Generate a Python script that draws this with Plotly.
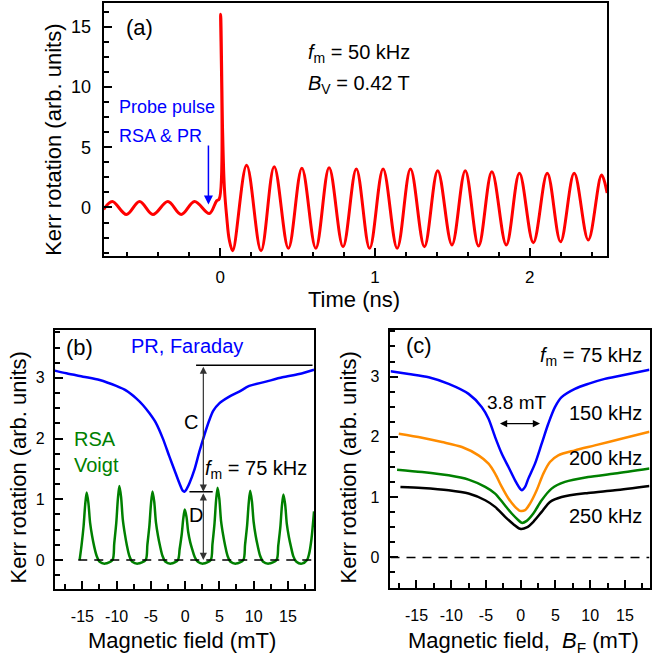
import plotly.graph_objects as go

W, H = 652, 662
FONT = "Liberation Sans, Arial, Helvetica, sans-serif"

# ---------------- Panel (a): time-resolved Kerr rotation ----------------
time_ns = [-0.753, -0.697, -0.606, -0.521, -0.435, -0.338, -0.252, -0.166, -0.070,
           -0.023, -0.006, 0.003, 0.016, 0.027, 0.042, 0.059, 0.081,
           0.171, 0.264, 0.349, 0.441, 0.528, 0.618, 0.704, 0.794, 0.880, 0.966,
           1.053, 1.144, 1.230, 1.320, 1.406, 1.498, 1.584, 1.670, 1.756, 1.849,
           1.934, 2.024, 2.114, 2.200, 2.288, 2.379, 2.465, 2.501]
kerr_time = [-0.15, 0.50, -0.58, 0.50, -0.58, 0.50, -0.58, 0.50, -0.50,
             0.55, 0.70, 16.05, 6.2, 1.7, -0.76, -2.7, -3.59,
             3.50, -3.59, 3.39, -3.39, 3.26, -3.39, 3.31, -3.26, 3.20, -3.39,
             3.20, -3.39, 3.20, -3.26, 3.06, -3.11, 3.06, -3.20, 2.97, -3.11,
             2.84, -2.92, 2.84, -2.84, 2.84, -2.70, 2.70, 1.20]

# ---------------- Panel (b): PR (Faraday) and RSA (Voigt) ----------------
field_pr = [-19.02, -17.33, -14.90, -12.47, -10.05, -8.59, -7.14, -6.17, -5.20, -4.23,
            -3.26, -2.29, -1.56, -0.83, -0.35, -0.10, 0.14, 0.63, 1.35, 2.08, 2.81,
            3.54, 4.12, 4.99, 6.45, 7.90, 9.36, 11.79, 14.21, 16.64, 18.82]
kerr_pr = [3.12, 3.075, 3.02, 2.965, 2.867, 2.79, 2.663, 2.554, 2.416, 2.252,
           2.004, 1.702, 1.483, 1.263, 1.142, 1.126, 1.153, 1.263, 1.483, 1.785, 2.059,
           2.306, 2.46, 2.581, 2.691, 2.773, 2.867, 2.938, 3.009, 3.064, 3.135]

field_rsa = [-15.40, -15.12, -14.82, -14.59, -14.37, -14.12, -13.87, -13.57, -13.27, -12.92, -12.47, -11.67,
             -10.6, -10.35, -10.05, -9.82, -9.6, -9.35, -9.1, -8.8, -8.5, -8.15, -7.7, -6.9,
             -5.76, -5.51, -5.21, -4.98, -4.76, -4.51, -4.26, -3.96, -3.66, -3.31, -2.86, -2.06,
             -1.05, -0.8, -0.5, -0.27, -0.05, 0.2, 0.45, 0.75, 1.05, 1.4, 1.85, 2.65,
             3.74, 3.99, 4.29, 4.52, 4.74, 4.99, 5.24, 5.54, 5.84, 6.19, 6.64, 7.44,
             8.5, 8.75, 9.05, 9.28, 9.5, 9.75, 10.0, 10.3, 10.6, 10.95, 11.4, 12.2,
             13.35, 13.6, 13.9, 14.13, 14.35, 14.6, 14.85, 15.15, 15.45, 15.8, 16.25, 17.05,
             17.8, 18.1, 18.45, 18.82]
kerr_rsa = [0.00, 0.24, 0.56, 0.91, 1.11, 0.94, 0.61, 0.39, 0.22, 0.07, -0.03, -0.06,
            0.00, 0.27, 0.61, 1.00, 1.22, 1.04, 0.67, 0.43, 0.24, 0.07, -0.03, -0.06,
            0.00, 0.25, 0.57, 0.93, 1.13, 0.96, 0.62, 0.40, 0.23, 0.07, -0.03, -0.06,
            0.00, 0.18, 0.42, 0.68, 0.83, 0.71, 0.46, 0.29, 0.17, 0.05, -0.03, -0.06,
            0.00, 0.26, 0.60, 0.98, 1.19, 1.01, 0.65, 0.42, 0.24, 0.07, -0.03, -0.06,
            0.00, 0.25, 0.57, 0.93, 1.14, 0.97, 0.63, 0.40, 0.23, 0.07, -0.03, -0.06,
            0.00, 0.24, 0.54, 0.89, 1.08, 0.92, 0.59, 0.38, 0.22, 0.06, -0.03, -0.06,
            0.00, 0.10, 0.35, 0.80]

# ---------------- Panel (c): PR for several modulation frequencies ----------------
field_75 = [-18.74, -16.11, -13.24, -10.37, -7.50, -5.59, -4.63, -3.68, -2.72, -1.76, -0.81,
            -0.09, 0.15, 0.63, 1.10, 2.06, 3.02, 3.97, 4.93, 5.89, 7.80, 9.71, 12.10, 14.49, 18.54]
kerr_75 = [3.09, 3.044, 2.989, 2.879, 2.713, 2.493, 2.30, 1.996, 1.72, 1.50, 1.279,
           1.141, 1.114, 1.169, 1.307, 1.555, 1.886, 2.217, 2.493, 2.658, 2.796, 2.879, 2.962, 3.017, 3.115]

field_150 = [-17.55, -14.20, -11.33, -8.46, -6.07, -4.63, -3.68, -2.72, -1.76, -0.81, -0.09,
             0.63, 1.34, 2.30, 3.26, 4.21, 5.41, 7.80, 10.67, 14.49, 18.54]
kerr_150 = [2.051, 1.985, 1.914, 1.831, 1.693, 1.555, 1.39, 1.169, 0.976, 0.838, 0.772,
            0.783, 0.893, 1.114, 1.39, 1.583, 1.693, 1.776, 1.858, 1.969, 2.085]

field_200 = [-17.79, -14.20, -10.37, -7.50, -5.11, -3.68, -2.48, -1.29, -0.33, 0.15, 0.87,
             1.82, 3.02, 4.45, 6.37, 9.71, 13.54, 18.54]
kerr_200 = [1.456, 1.417, 1.362, 1.29, 1.169, 1.059, 0.893, 0.728, 0.617, 0.573, 0.606,
            0.728, 0.948, 1.141, 1.252, 1.334, 1.39, 1.475]

field_250 = [-17.31, -14.20, -10.37, -7.50, -5.11, -3.68, -2.24, -1.05, -0.09, 0.87,
             1.82, 3.02, 4.21, 5.89, 9.71, 13.54, 18.54]
kerr_250 = [1.169, 1.152, 1.114, 1.059, 0.948, 0.838, 0.672, 0.551, 0.475, 0.496,
            0.59, 0.755, 0.921, 1.003, 1.07, 1.114, 1.185]

# tick labels
time_ticks = [0, 1, 2]
time_ticklabels = ["0", "1", "2"]
kerr_a_ticks = [0, 5, 10, 15]
kerr_a_ticklabels = ["0", "5", "10", "15"]
field_ticks = [-15, -10, -5, 0, 5, 10, 15]
field_ticklabels = ["-15", "-10", "-5", "0", "5", "10", "15"]
kerr_bc_ticks = [0, 1, 2, 3]
kerr_bc_ticklabels = ["0", "1", "2", "3"]

RED = "#ff0000"
BLUE = "#0000ff"
GREEN = "#008000"
ORANGE = "#ff8c00"
BLACK = "#000000"


def px(x, y):
    return x / W, 1 - y / H


fig = go.Figure()


def line(x, y, color, width, xa, ya, smoothing=1.0):
    fig.add_trace(go.Scatter(x=x, y=y, mode="lines", xaxis=xa, yaxis=ya,
                             line=dict(color=color, width=width, shape="spline", smoothing=smoothing),
                             showlegend=False, hoverinfo="skip"))


line(time_ns, kerr_time, RED, 3, "x", "y", 1.0)
line(field_pr, kerr_pr, BLUE, 2.5, "x2", "y2", 0.8)
line(field_rsa, kerr_rsa, GREEN, 2.5, "x2", "y2", 0.8)
line(field_75, kerr_75, BLUE, 2.5, "x3", "y3", 0.8)
line(field_150, kerr_150, ORANGE, 2.5, "x3", "y3", 0.8)
line(field_200, kerr_200, GREEN, 2.5, "x3", "y3", 0.8)
line(field_250, kerr_250, BLACK, 2.5, "x3", "y3", 0.8)


def axis(domain, rng, tickvals, ticktext, minor_dtick, fsize, standoff, anchor, ticklen=8, minorlen=5):
    return dict(domain=domain, range=rng, tickmode="array", tickvals=tickvals, ticktext=ticktext,
                ticks="inside", ticklen=ticklen, tickwidth=1.5, tickcolor="black",
                minor=dict(tickmode="linear", tick0=0, dtick=minor_dtick, ticks="inside",
                           ticklen=minorlen, tickwidth=1.5, tickcolor="black"),
                showline=True, linewidth=2, linecolor="black", mirror=True,
                showgrid=False, zeroline=False,
                tickfont=dict(size=fsize, family=FONT, color="black"),
                ticklabelstandoff=standoff, anchor=anchor, fixedrange=True)


fig.update_layout(
    width=W, height=H, margin=dict(l=0, r=0, t=0, b=0),
    paper_bgcolor="white", plot_bgcolor="white", showlegend=False,
    font=dict(family=FONT, color="black"),
    xaxis=axis([104 / W, 609 / W], [-0.753, 2.501], time_ticks, time_ticklabels, 0.2, 17, 5, "y", 8, 4),
    yaxis=axis([1 - 256 / H, 1 - 3 / H], [-4.03, 16.99], kerr_a_ticks, kerr_a_ticklabels, 1.25, 18, 7, "x"),
    xaxis2=axis([55 / W, 315 / W], [-19.02, 18.82], field_ticks, field_ticklabels, 2.5, 16, 11, "y2"),
    yaxis2=axis([1 - 589.3 / H, 1 - 330 / H], [-0.483, 3.789], kerr_bc_ticks, kerr_bc_ticklabels, 0.25, 16, 5, "x2"),
    xaxis3=axis([391.7 / W, 651.5 / W], [-18.74, 18.54], field_ticks, field_ticklabels, 2.5, 16, 11, "y3"),
    yaxis3=axis([1 - 588.3 / H, 1 - 330 / H], [-0.513, 3.773], kerr_bc_ticks, kerr_bc_ticklabels, 0.25, 16, 6, "x3"),
)

# shapes: dashed zero lines and the reference bars in (b)
shapes = [
    dict(type="line", xref="x2", yref="y2", x0=-15.6, x1=18.6, y0=0, y1=0,
         line=dict(color="black", width=1.5, dash="9px,7px")),
    dict(type="line", xref="x3", yref="y3", x0=-18.74, x1=18.54, y0=0, y1=0,
         line=dict(color="black", width=1.5, dash="9px,7px")),
    dict(type="line", xref="x2", yref="y2", x0=1.6, x1=18.6, y0=3.21, y1=3.21,
         line=dict(color="black", width=1.5)),
    dict(type="line", xref="x2", yref="y2", x0=0.63, x1=4.03, y0=1.125, y1=1.125,
         line=dict(color="black", width=1.5)),
]
fig.update_layout(shapes=shapes)

ann = []


def text(t, x, y, size, color="black", xanchor="left", yanchor="middle", angle=0):
    xp, yp = px(x, y)
    ann.append(dict(text=t, x=xp, y=yp, xref="paper", yref="paper", showarrow=False,
                    xanchor=xanchor, yanchor=yanchor, textangle=angle,
                    font=dict(size=size, color=color, family=FONT)))


# panel (a)
text("(a)", 124, 27, 22)
text("<i>f</i><sub>m</sub> = 50 kHz", 307, 53, 20)
text("<i>B</i><sub>V</sub> = 0.42 T", 307, 84, 20)
text("Probe pulse", 117, 107, 18, BLUE)
text("RSA &amp; PR", 117, 136, 18, BLUE)
# panel (b)
text("(b)", 64, 347, 22)
text("PR, Faraday", 129, 346, 20, BLUE)
text("RSA", 72, 439, 20, GREEN)
text("Voigt", 72, 465, 20, GREEN)
text("<i>f</i><sub>m</sub> = 75 kHz", 204, 469, 20)
text("C", 191.7, 422, 20, xanchor="center")
text("D", 196.7, 515, 20, xanchor="center")
# panel (c)
text("(c)", 405, 345, 22)
text("<i>f</i><sub>m</sub> = 75 kHz", 646, 356, 20, xanchor="right")
text("3.8 mT", 519, 402, 19, xanchor="center")
text("150 kHz", 646, 413, 20, xanchor="right")
text("200 kHz", 646, 458, 20, xanchor="right")
text("250 kHz", 646, 516, 20, xanchor="right")
# axis titles
text("Time (ns)", 355, 299, 22, xanchor="center")
text("Magnetic field (mT)", 182.5, 640, 22, xanchor="center")
text("Magnetic field,  <i>B</i><sub>F</sub> (mT)", 525, 642, 22, xanchor="center")
text("Kerr rotation (arb. units)", 53, 140, 22, xanchor="center", angle=-90)
text("Kerr rotation (arb. units)", 19, 467.5, 22, xanchor="center", angle=-90)
text("Kerr rotation (arb. units)", 350, 467.5, 22, xanchor="center", angle=-90)

# arrows
ann.append(dict(x=-0.076, y=0.25, ax=-0.076, ay=5.27, xref="x", yref="y", axref="x", ayref="y",
                text="", showarrow=True, arrowhead=2, arrowsize=1.2, arrowwidth=1.5, arrowcolor=BLUE))
ann.append(dict(x=2.66, y=1.125, ax=2.66, ay=3.21, xref="x2", yref="y2", axref="x2", ayref="y2",
                text="", showarrow=True, arrowhead=2, arrowside="end+start", arrowsize=1.2,
                arrowwidth=1.2, arrowcolor="#333333"))
ann.append(dict(x=2.66, y=0.0, ax=2.66, ay=1.125, xref="x2", yref="y2", axref="x2", ayref="y2",
                text="", showarrow=True, arrowhead=2, arrowside="end+start", arrowsize=1.2,
                arrowwidth=1.2, arrowcolor="#333333"))
ann.append(dict(x=2.78, y=2.22, ax=-3.2, ay=2.22, xref="x3", yref="y3", axref="x3", ayref="y3",
                text="", showarrow=True, arrowhead=2, arrowside="end+start", arrowsize=1.2,
                arrowwidth=1.2, arrowcolor="black"))

fig.update_layout(annotations=ann)
fig.write_html("out.html")
